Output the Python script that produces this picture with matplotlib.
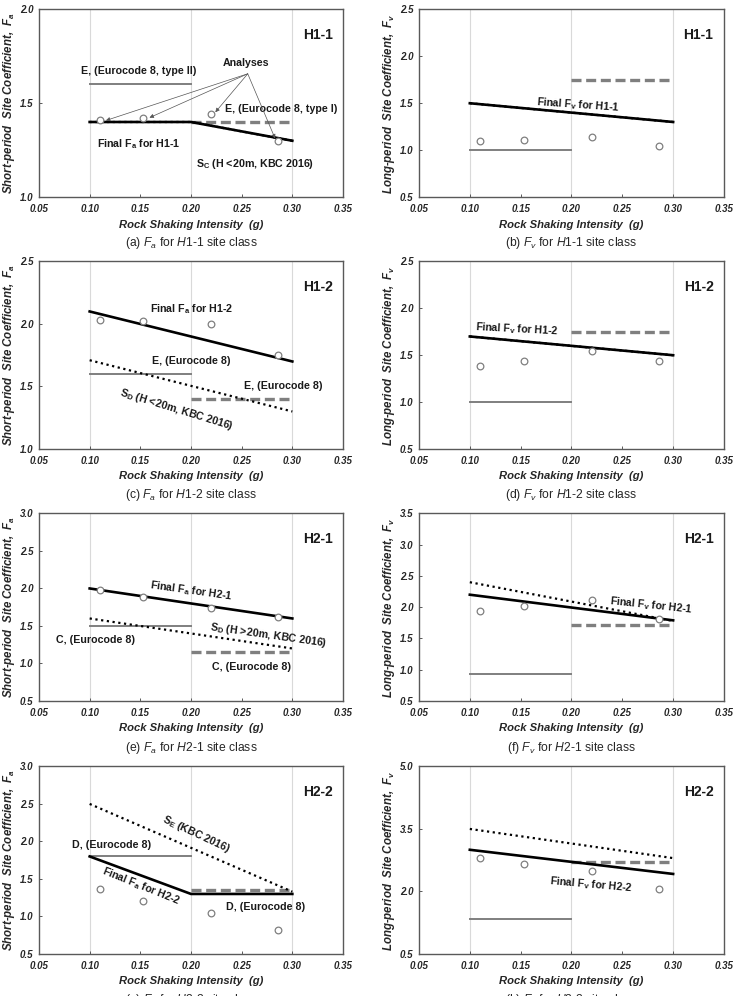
import matplotlib
matplotlib.use("Agg")
import matplotlib.pyplot as plt

plt.rcParams['font.family'] = ['Liberation Sans', 'DejaVu Sans']
plt.rcParams['mathtext.fontset'] = 'custom'
plt.rcParams['mathtext.rm'] = 'Liberation Sans'
plt.rcParams['mathtext.it'] = 'Liberation Sans:italic'
plt.rcParams['mathtext.bf'] = 'Liberation Sans:bold'
plt.rcParams['mathtext.default'] = 'regular'

# shaking intensity of the four analyses
pga = [0.11, 0.153, 0.22, 0.286]
grid_x = [0.10, 0.20, 0.30]
ec_low_x = [0.10, 0.20]
ec_high_x = [0.20, 0.30]

# (a) Fa H1-1
a_final_x = [0.10, 0.20, 0.30]
a_final_y = [1.40, 1.40, 1.30]
a_kbc_x = [0.10, 0.20, 0.30]
a_kbc_y = [1.40, 1.40, 1.30]
a_ec_low = 1.60
a_ec_high = 1.40
a_analyses = [1.41, 1.42, 1.44, 1.30]

# (b) Fv H1-1
b_final_x = [0.10, 0.30]
b_final_y = [1.50, 1.30]
b_kbc_x = [0.10, 0.30]
b_kbc_y = [1.50, 1.30]
b_ec_low = 1.00
b_ec_high = 1.75
b_analyses = [1.10, 1.11, 1.14, 1.04]

# (c) Fa H1-2
c_final_x = [0.10, 0.30]
c_final_y = [2.10, 1.70]
c_kbc_x = [0.10, 0.30]
c_kbc_y = [1.71, 1.30]
c_ec_low = 1.60
c_ec_high = 1.40
c_analyses = [2.03, 2.02, 2.00, 1.755]

# (d) Fv H1-2
d_final_x = [0.10, 0.30]
d_final_y = [1.70, 1.50]
d_kbc_x = [0.10, 0.30]
d_kbc_y = [1.70, 1.50]
d_ec_low = 1.00
d_ec_high = 1.75
d_analyses = [1.38, 1.44, 1.54, 1.44]

# (e) Fa H2-1
e_final_x = [0.10, 0.30]
e_final_y = [2.00, 1.60]
e_kbc_x = [0.10, 0.30]
e_kbc_y = [1.60, 1.20]
e_ec_low = 1.50
e_ec_high = 1.15
e_analyses = [1.975, 1.88, 1.745, 1.625]

# (f) Fv H2-1
f_final_x = [0.10, 0.30]
f_final_y = [2.20, 1.79]
f_kbc_x = [0.10, 0.30]
f_kbc_y = [2.40, 1.78]
f_ec_low = 0.93
f_ec_high = 1.71
f_analyses = [1.94, 2.02, 2.115, 1.81]

# (g) Fa H2-2
g_final_x = [0.10, 0.20, 0.30]
g_final_y = [1.80, 1.30, 1.30]
g_kbc_x = [0.10, 0.30]
g_kbc_y = [2.50, 1.33]
g_ec_low = 1.80
g_ec_high = 1.35
g_analyses = [1.37, 1.21, 1.05, 0.82]

# (h) Fv H2-2
h_final_x = [0.10, 0.30]
h_final_y = [3.00, 2.42]
h_kbc_x = [0.10, 0.30]
h_kbc_y = [3.50, 2.80]
h_ec_low = 1.34
h_ec_high = 2.70
h_analyses = [2.81, 2.67, 2.49, 2.07]

FA_LABEL = 'Short-period  Site Coefficient,  $F_a$'
FV_LABEL = 'Long-period  Site Coefficient,  $F_v$'

fig = plt.figure(figsize=(7.37, 9.96), dpi=100)

col_left = [0.0529, 0.5685]
col_w = [0.4125, 0.4138]
row_y = [0.8022, 0.5492, 0.2962, 0.0422]
row_h = 0.1883


def make_panel(ax, final_x, final_y, kbc_x, kbc_y, ec_low, ec_high, analyses,
               ylim, yticks, ylabel, site):
    for gx in grid_x:
        ax.axvline(gx, color='#d9d9d9', lw=0.8, zorder=0)
    ax.plot(ec_low_x, [ec_low, ec_low], color='#7f7f7f', lw=1.4, zorder=2)
    ax.plot(ec_high_x, [ec_high, ec_high], color='#7f7f7f', lw=2.4,
            dashes=(3, 1.4), zorder=2)
    ax.plot(final_x, final_y, color='black', lw=1.9, zorder=3)
    ax.plot(kbc_x, kbc_y, color='black', lw=1.6, ls=(0, (1, 1.6)), zorder=3)
    ax.plot(pga, analyses, ls='none', marker='o', ms=4.8, mfc='white',
            mec='#7f7f7f', mew=0.9, zorder=4)
    ax.set_xlim(0.05, 0.35)
    ax.set_xticks([0.05, 0.10, 0.15, 0.20, 0.25, 0.30, 0.35])
    ax.set_xticklabels(['%.2f' % v for v in ax.get_xticks()])
    ax.set_ylim(*ylim)
    ax.set_yticks(yticks)
    ax.set_yticklabels(['%.1f' % v for v in yticks])
    ax.tick_params(direction='in', length=2.5, width=0.7, colors='#595959',
                   labelcolor='#262626', labelsize=7, pad=4)
    ax.tick_params(axis='x', pad=5)
    for lab in ax.get_xticklabels() + ax.get_yticklabels():
        lab.set_fontweight('bold')
        lab.set_fontstyle('italic')
    for sp in ax.spines.values():
        sp.set_color('#595959')
        sp.set_linewidth(1.0)
    ax.set_xlabel('Rock Shaking Intensity  (g)', fontsize=8.1, fontweight='bold',
                  fontstyle='italic', color='#262626', labelpad=4)
    ax.set_ylabel(ylabel, fontsize=8.3, fontweight='bold', fontstyle='italic',
                  color='#262626', labelpad=2)
    ax.text(0.325, ylim[0] + 0.862 * (ylim[1] - ylim[0]), site, fontsize=10,
            fontweight='bold', ha='center', va='center', color='#1a1a1a')


axes = {}
for r in range(4):
    for c in range(2):
        axes[(r, c)] = fig.add_axes([col_left[c], row_y[r], col_w[c], row_h])

txt = dict(fontsize=7.7, fontweight='bold', color='#1a1a1a', va='center')

# (a)
ax = axes[(0, 0)]
make_panel(ax, a_final_x, a_final_y, a_kbc_x, a_kbc_y, a_ec_low, a_ec_high,
           a_analyses, (1.0, 2.0), [1.0, 1.5, 2.0], FA_LABEL, 'H1-1')
ax.text(0.254, 1.715, 'Analyses', ha='center', **txt)
ax.text(0.148, 1.672, 'E, (Eurocode 8, type II)', ha='center', **txt)
ax.text(0.234, 1.467, 'E, (Eurocode 8, type I)', ha='left', **txt)
ax.text(0.107, 1.283, 'Final F$_a$ for H1-1', ha='left', **txt)
ax.text(0.205, 1.177, 'S$_C$ (H <20m, KBC 2016)', ha='left', **txt)
tips = [(0.116, 1.408), (0.159, 1.423), (0.224, 1.452), (0.283, 1.312)]
for tx, ty in tips:
    ax.annotate('', xy=(tx, ty), xytext=(0.256, 1.657),
                arrowprops=dict(arrowstyle='-|>', color='#555555', lw=0.5,
                                mutation_scale=6, shrinkA=0, shrinkB=0))

# (b)
ax = axes[(0, 1)]
make_panel(ax, b_final_x, b_final_y, b_kbc_x, b_kbc_y, b_ec_low, b_ec_high,
           b_analyses, (0.5, 2.5), [0.5, 1.0, 1.5, 2.0, 2.5], FV_LABEL, 'H1-1')
ax.text(0.207, 1.48, 'Final F$_v$ for H1-1', ha='center', rotation=-4, **txt)

# (c)
ax = axes[(1, 0)]
make_panel(ax, c_final_x, c_final_y, c_kbc_x, c_kbc_y, c_ec_low, c_ec_high,
           c_analyses, (1.0, 2.5), [1.0, 1.5, 2.0, 2.5], FA_LABEL, 'H1-2')
ax.text(0.2005, 2.12, 'Final F$_a$ for H1-2', ha='center', **txt)
ax.text(0.2005, 1.706, 'E, (Eurocode 8)', ha='center', **txt)
ax.text(0.291, 1.50, 'E, (Eurocode 8)', ha='center', **txt)
ax.text(0.186, 1.313, 'S$_D$ (H <20m, KBC 2016)', ha='center', rotation=-17, **txt)

# (d)
ax = axes[(1, 1)]
make_panel(ax, d_final_x, d_final_y, d_kbc_x, d_kbc_y, d_ec_low, d_ec_high,
           d_analyses, (0.5, 2.5), [0.5, 1.0, 1.5, 2.0, 2.5], FV_LABEL, 'H1-2')
ax.text(0.146, 1.78, 'Final F$_v$ for H1-2', ha='center', rotation=-3, **txt)

# (e)
ax = axes[(2, 0)]
make_panel(ax, e_final_x, e_final_y, e_kbc_x, e_kbc_y, e_ec_low, e_ec_high,
           e_analyses, (0.5, 3.0), [0.5, 1.0, 1.5, 2.0, 2.5, 3.0], FA_LABEL, 'H2-1')
ax.text(0.2005, 1.96, 'Final F$_a$ for H2-1', ha='center', rotation=-8, **txt)
ax.text(0.276, 1.38, 'S$_D$ (H >20m, KBC 2016)', ha='center', rotation=-8, **txt)
ax.text(0.106, 1.31, 'C, (Eurocode 8)', ha='center', **txt)
ax.text(0.26, 0.95, 'C, (Eurocode 8)', ha='center', **txt)

# (f)
ax = axes[(2, 1)]
make_panel(ax, f_final_x, f_final_y, f_kbc_x, f_kbc_y, f_ec_low, f_ec_high,
           f_analyses, (0.5, 3.5), [0.5, 1.0, 1.5, 2.0, 2.5, 3.0, 3.5], FV_LABEL, 'H2-1')
ax.text(0.279, 2.024, 'Final F$_v$ for H2-1', ha='center', rotation=-6, **txt)

# (g)
ax = axes[(3, 0)]
make_panel(ax, g_final_x, g_final_y, g_kbc_x, g_kbc_y, g_ec_low, g_ec_high,
           g_analyses, (0.5, 3.0), [0.5, 1.0, 1.5, 2.0, 2.5, 3.0], FA_LABEL, 'H2-2')
ax.text(0.205, 2.097, 'S$_E$ (KBC 2016)', ha='center', rotation=-25, **txt)
ax.text(0.122, 1.946, 'D, (Eurocode 8)', ha='center', **txt)
ax.text(0.151, 1.40, 'Final F$_a$ for H2-2', ha='center', rotation=-22, **txt)
ax.text(0.274, 1.13, 'D, (Eurocode 8)', ha='center', **txt)

# (h)
ax = axes[(3, 1)]
make_panel(ax, h_final_x, h_final_y, h_kbc_x, h_kbc_y, h_ec_low, h_ec_high,
           h_analyses, (0.5, 5.0), [0.5, 2.0, 3.5, 5.0], FV_LABEL, 'H2-2')
ax.text(0.219, 2.17, 'Final F$_v$ for H2-2', ha='center', rotation=-5, **txt)

# captions
captions = [
    ['(a) $\\mathit{F_a}$ for $\\mathit{H1}$-$\\mathit{1}$ site class',
     '(b) $\\mathit{F_v}$ for $\\mathit{H1}$-$\\mathit{1}$ site class'],
    ['(c) $\\mathit{F_a}$ for $\\mathit{H1}$-$\\mathit{2}$ site class',
     '(d) $\\mathit{F_v}$ for $\\mathit{H1}$-$\\mathit{2}$ site class'],
    ['(e) $\\mathit{F_a}$ for $\\mathit{H2}$-$\\mathit{1}$ site class',
     '(f) $\\mathit{F_v}$ for $\\mathit{H2}$-$\\mathit{1}$ site class'],
    ['(g) $\\mathit{F_a}$ for $\\mathit{H2}$-$\\mathit{2}$ site class',
     '(h) $\\mathit{F_v}$ for $\\mathit{H2}$-$\\mathit{2}$ site class'],
]
cap_y = [0.756, 0.503, 0.249, -0.004]
cap_x = [0.259, 0.775]
for r in range(4):
    for c in range(2):
        fig.text(cap_x[c], cap_y[r], captions[r][c], fontsize=8.7,
                 ha='center', va='center', color='#262626')

fig.savefig('out.png', dpi=100)
